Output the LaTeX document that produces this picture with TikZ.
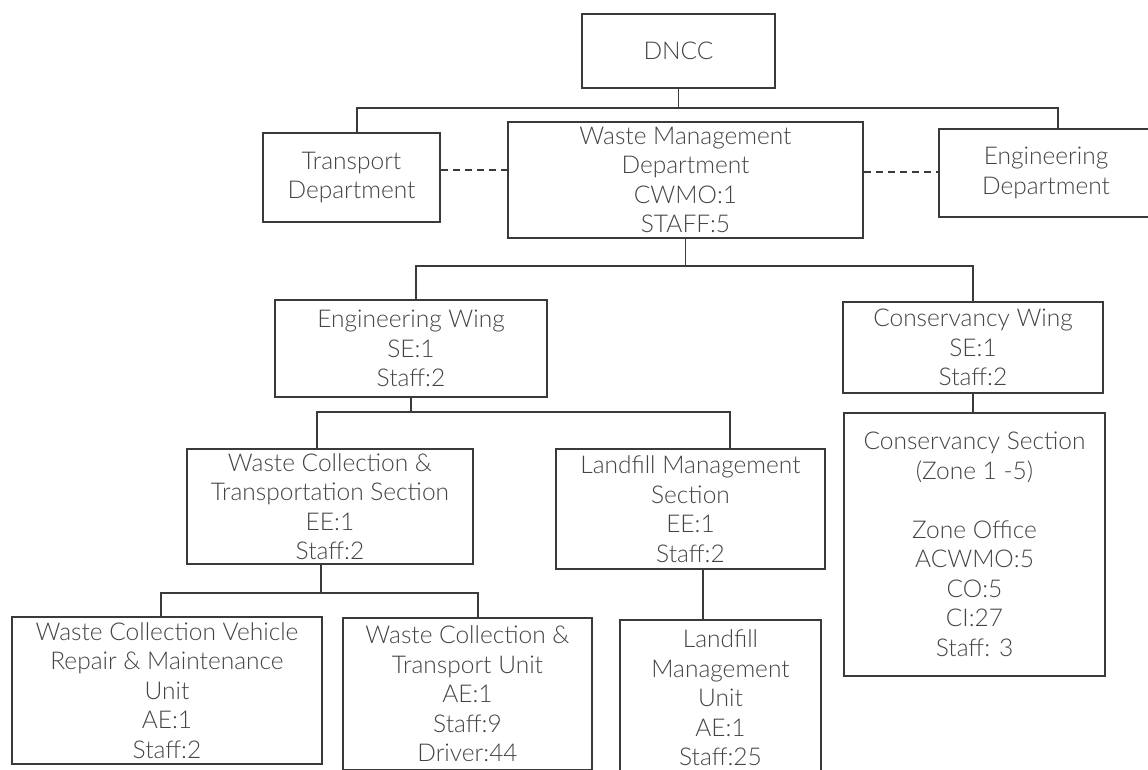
\documentclass[tikz,border=0pt]{standalone}
\usepackage{fontspec}
\setmainfont{Lato Light}
\usetikzlibrary{calc}
\definecolor{linec}{HTML}{3A3A3A}
\definecolor{textc}{HTML}{444444}
\begin{document}
\begin{tikzpicture}[x=1pt,y=-1pt,
  box/.style={draw=linec, line width=1.9pt, rectangle, inner sep=0pt, align=center,
    text=textc, font=\fontsize{24.5}{29.5}\selectfont},
  conn/.style={draw=linec, line width=1.9pt},
  link/.style={draw=linec, line width=1.9pt, dash pattern=on 7pt off 5pt}]
\clip (0,0) rectangle (1148,769);
\fill[white] (0,0) rectangle (1148,769);
% boxes
\node[box, minimum width=193pt, minimum height=74pt] (dncc) at (678.5,51) {DNCC};
\node[box, minimum width=177pt, minimum height=89pt] (transport) at (351.5,177.5) {Transport\\Department};
\node[box, minimum width=355pt, minimum height=116pt] (wmd) at (685.5,180) {Waste Management\\Department\\CWMO:1\\STAFF:5};
\node[box, minimum width=214pt, minimum height=88pt] (engd) at (1046,173) {Engineering\\Department};
\node[box, minimum width=272pt, minimum height=97pt] (ew) at (411,348.5) {Engineering Wing\\SE:1\\Staff:2};
\node[box, minimum width=260pt, minimum height=91pt] (cw) at (973,347.5) {Conservancy Wing\\SE:1\\Staff:2};
\node[box, minimum width=261pt, minimum height=263pt] (cs) at (974.5,544.5) {Conservancy Section\\(Zone 1 -5)\\[29.5pt]Zone Office\\ACWMO:5\\CO:5\\CI:27\\Staff: 3};
\node[box, minimum width=286pt, minimum height=115pt] (wct) at (330,506.5) {Waste Collection \&\\Transportation Section\\EE:1\\Staff:2};
\node[box, minimum width=269pt, minimum height=120pt] (lms) at (690.5,509) {Landfill Management\\Section\\EE:1\\Staff:2};
\node[box, minimum width=310pt, minimum height=147pt] (wcvr) at (167,690.5) {Waste Collection Vehicle\\Repair \& Maintenance\\Unit\\AE:1\\Staff:2};
\node[box, minimum width=249pt, minimum height=152pt] (wctu) at (467.5,694) {Waste Collection \&\\Transport Unit\\AE:1\\Staff:9\\Driver:44};
\node[box, minimum width=201pt, minimum height=156pt] (lmu) at (720.5,698) {Landfill\\Management\\Unit\\AE:1\\Staff:25};
% bars
\coordinate (bar1) at (0,108);
\coordinate (bar2) at (0,266);
\coordinate (bar3) at (0,412);
\coordinate (bar4) at (0,593);
\coordinate (dl) at (0,170);
\coordinate (dr) at (0,172);
% connectors level 1
\coordinate (tpin) at ([xshift=5.5pt]transport.north);
\coordinate (edin) at ([xshift=12pt]engd.north);
\draw[conn] (dncc.south) -- (dncc.south |- bar1);
\draw[conn] (tpin) -- (tpin |- bar1) -- (edin |- bar1) -- (edin);
\draw[link] (transport.east |- dl) -- (wmd.west |- dl);
\draw[link] (wmd.east |- dr) -- (engd.west |- dr);
% level 2
\coordinate (ewin) at ([xshift=5pt]ew.north);
\draw[conn] (wmd.south) -- (wmd.south |- bar2);
\draw[conn] (ewin) -- (ewin |- bar2) -- (cw.north |- bar2) -- (cw.north);
\draw[conn] (cw.south) -- (cw.south |- cs.north);
% level 3
\coordinate (wctin) at ([xshift=-13pt]wct.north);
\coordinate (lmsin) at ([xshift=39.5pt]lms.north);
\draw[conn] (ew.south) -- (ew.south |- bar3);
\draw[conn] (wctin) -- (wctin |- bar3) -- (lmsin |- bar3) -- (lmsin);
% level 4
\coordinate (wctout) at ([xshift=-9pt]wct.south);
\coordinate (vrin) at ([xshift=-6pt]wcvr.north);
\coordinate (tuin) at ([xshift=10.5pt]wctu.north);
\draw[conn] (wctout) -- (wctout |- bar4);
\draw[conn] (vrin) -- (vrin |- bar4) -- (tuin |- bar4) -- (tuin);
\coordinate (lmsout) at ([xshift=12.5pt]lms.south);
\draw[conn] (lmsout) -- (lmsout |- lmu.north);
\end{tikzpicture}
\end{document}
